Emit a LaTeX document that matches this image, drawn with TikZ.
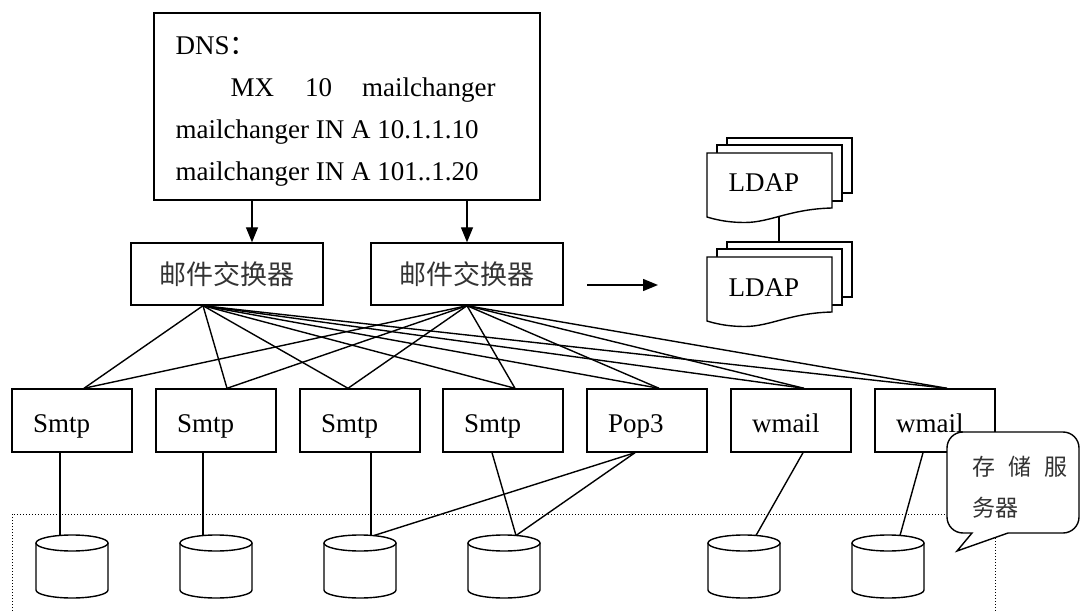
\documentclass[tikz,border=0pt]{standalone}
\usepackage{fontspec}
\setmainfont{Liberation Serif}
\newfontfamily\cjk{Noto Sans CJK SC}
\usetikzlibrary{arrows.meta}
\newcommand\dbcyl[2]{%
  \draw[fill=white] (#1-36,543) -- (#1-36,590)
     arc[start angle=180, end angle=360, x radius=36pt, y radius=8pt] -- (#1+36,543);
  \draw[fill=white] (#1,543) ellipse [x radius=36pt, y radius=8pt];
  \coordinate (#2) at (#1,535.5);
}
\begin{document}
\begin{tikzpicture}[x=1pt,y=-1pt, line width=1.4pt,
  every node/.style={font=\fontsize{27}{32}\selectfont, inner sep=0pt},
  box/.style={draw, rectangle},
  cjkbox/.style={box, minimum width=192, minimum height=62, text=black!80,
    font=\cjk\fontsize{27}{32}\selectfont},
  srv/.style={draw, rectangle, minimum width=120, minimum height=63,
    text width=78pt, align=left, inner xsep=21pt, inner ysep=0pt,
    text height=30pt, text depth=7pt},
  arr/.style={-{Triangle[length=15pt,width=12pt]}},
  dotbox/.style={line width=1pt, dash pattern=on 1.2pt off 1.8pt},
  calltext/.style={anchor=west, text=black!80, font=\cjk\fontsize{23}{28}\selectfont},
]
\useasboundingbox (0,0) rectangle (1081,612);

% DNS box
\node[box, minimum width=386, minimum height=187] (dns) at (347,106.5) {};
\node[anchor=base west] (t1) at (175,55) {DNS{\cjk ：}};
\node[anchor=base west] (t2) at (230,97) {MX\hspace{31pt}10\hspace{30pt}mailchanger};
\node[anchor=base west] (t3) at (175,139) {mailchanger IN A 10.1.1.10};
\node[anchor=base west] (t4) at (175,181) {mailchanger IN A 101..1.20};

% mail exchangers
\node[cjkbox] (e1) at (227,274) {邮件交换器};
\node[cjkbox] (e2) at (467,274) {邮件交换器};
\draw[arr] ([xshift=25pt]e1.north |- dns.south) -- ([xshift=25pt]e1.north);
\draw[arr] (e2.north |- dns.south) -- (e2.north);

% LDAP stacks
\foreach \dy/\nm in {0/la, 104/lb}{
  \draw (727,145+\dy) -- (727,138+\dy) -- (852,138+\dy) -- (852,193+\dy) -- (842,193+\dy);
  \draw (717,153+\dy) -- (717,145+\dy) -- (842,145+\dy) -- (842,201+\dy) -- (832,201+\dy);
  \draw[fill=white] (707,153+\dy) -- (832,153+\dy) -- (832,208+\dy)
     .. controls (790,209+\dy) and (770,222.5+\dy) .. (745,222.5+\dy)
     .. controls (732,222.5+\dy) and (720,221+\dy) .. (707,217+\dy) -- cycle;
}
\node[anchor=base west] (l1) at (728,192) {LDAP};
\node[anchor=base west] (l2) at (728,296) {LDAP};
\coordinate (w1) at (779,216);
\coordinate (s3b) at (779,242);
\draw (w1) -- (s3b);
\coordinate (ha1) at (587,285);
\coordinate (ha2) at (658,285);
\draw[arr] (ha1) -- (ha2);

% dotted storage area
\draw[dotbox] (12,614) -- (12,514) -- (995,514) -- (995,614);

% servers
\node[srv] (s1) at (72,420.5) {Smtp};
\node[srv] (s2) at (216,420.5) {Smtp};
\node[srv] (s3) at (360,420.5) {Smtp};
\node[srv] (s4) at (503,420.5) {Smtp};
\node[srv] (s5) at (647,420.5) {Pop3};
\node[srv] (s6) at (791,420.5) {wmail};
\node[srv] (s7) at (935,420.5) {wmail};

\foreach \t/\o in {s1/12, s2/11, s3/-12, s4/12, s5/12, s6/13, s7/12}{
  \draw ([xshift=-24pt]e1.south) -- ([xshift=\o pt]\t.north);
  \draw (e2.south) -- ([xshift=\o pt]\t.north);
}

% storage cylinders
\dbcyl{72}{c1}
\dbcyl{216}{c2}
\dbcyl{360}{c3}
\dbcyl{504}{c4}
\dbcyl{744}{c5}
\dbcyl{888}{c6}

\draw ([xshift=-12pt]s1.south) -- ([xshift=-12pt]c1);
\draw ([xshift=-13pt]s2.south) -- ([xshift=-13pt]c2);
\draw ([xshift=11pt]s3.south) -- ([xshift=11pt]c3);
\draw ([xshift=-11pt]s4.south) -- ([xshift=12pt]c4);
\draw ([xshift=-12pt]s5.south) -- ([xshift=14pt]c3);
\draw ([xshift=-12pt]s5.south) -- ([xshift=12pt]c4);
\draw ([xshift=12pt]s6.south) -- ([xshift=12pt]c5);
\draw ([xshift=-12pt]s7.south) -- ([xshift=12pt]c6);

% callout
\draw[fill=white] (1008,533) -- (957,551) -- (972,533) [rounded corners=16pt]
   -- (947,533) -- (947,432) -- (1079,432) -- (1079,533) [sharp corners] -- cycle;
\node[calltext] (cl1) at (972,467) {存\hspace{13pt}储\hspace{13pt}服};
\node[calltext] (cl2) at (972,508) {务器};
\end{tikzpicture}
\end{document}
